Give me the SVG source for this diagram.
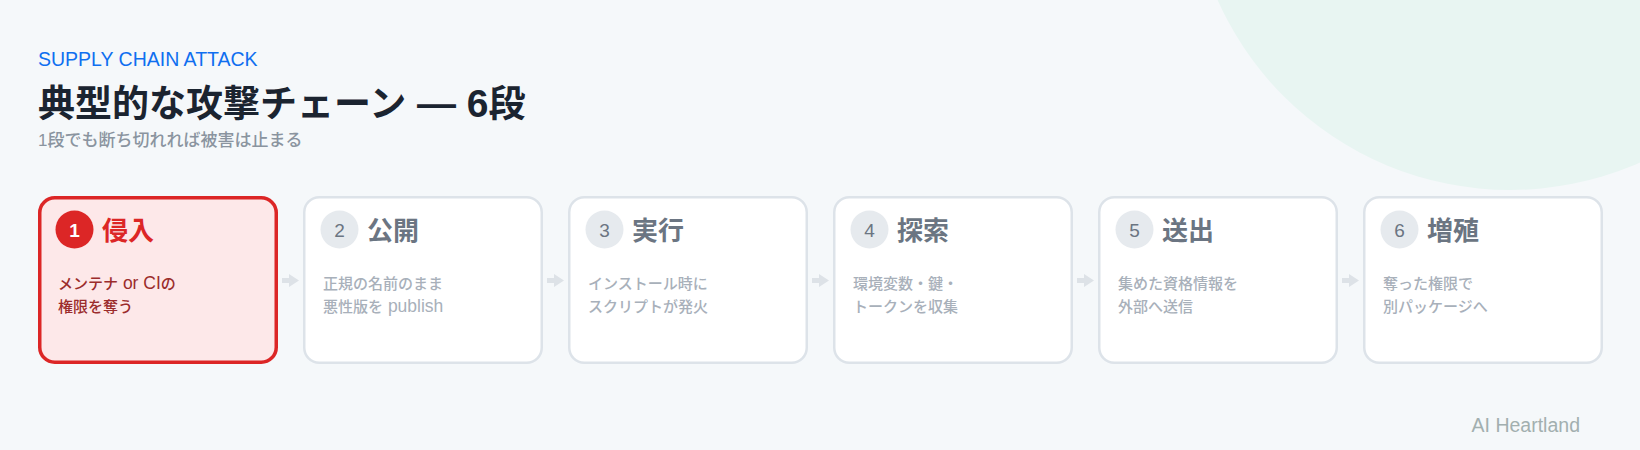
<svg xmlns="http://www.w3.org/2000/svg" width="1640" height="450" viewBox="0 0 1640 450">
  <defs>
    <style>
      text { font-family: "Liberation Sans", "Noto Sans CJK JP", sans-serif; }
      .eyebrow { font-size: 19.5px; fill: #0f6ff0; }
      .title { font-size: 37px; font-weight: 700; fill: #1b2430; }
      .title .lat { font-size: 39px; }
      .sub { font-size: 17px; font-weight: 500; fill: #8a949f; }
      .box { fill: #ffffff; stroke: #dde3e9; stroke-width: 2.5; }
      .box-active { fill: #fde8e9; stroke: #dc2626; stroke-width: 3.5; }
      .num-bg { fill: #e6eaee; }
      .num-bg-active { fill: #dc2626; }
      .num { font-size: 19px; fill: #6b7582; text-anchor: middle; }
      .num-active { font-size: 19px; font-weight: 700; fill: #ffffff; text-anchor: middle; }
      .head { font-size: 26px; font-weight: 700; fill: #6b7582; }
      .head-active { font-size: 26px; font-weight: 700; fill: #dc2626; }
      .desc { font-size: 15px; font-weight: 500; fill: #a8b0ba; }
      .desc-active { font-size: 15px; font-weight: 500; fill: #9b2c2c; }
      .lat { font-size: 17.5px; }
      .arrow { fill: #dde2e7; }
      .brand { font-size: 19.5px; fill: #a2afaf; text-anchor: end; }
    </style>
  </defs>
  <rect x="0" y="0" width="1640" height="450" fill="#f5f8fa"/>
  <circle cx="1510" cy="-130" r="320" fill="#e8f5f2"/>

  <g id="header">
    <text class="eyebrow" x="38" y="66">SUPPLY CHAIN ATTACK</text>
    <text class="title" x="38" y="117">典型的な攻撃チェーン<tspan class="lat"> — 6</tspan>段</text>
    <text class="sub" x="38" y="146">1段でも断ち切れれば被害は止まる</text>
  </g>

  <g id="connectors">
    <path class="arrow" d="M282 278 H289 V274 L299 280.5 L289 287 V283 H282 Z"/>
    <path class="arrow" d="M547 278 H554 V274 L564 280.5 L554 287 V283 H547 Z"/>
    <path class="arrow" d="M812 278 H819 V274 L829 280.5 L819 287 V283 H812 Z"/>
    <path class="arrow" d="M1077 278 H1084 V274 L1094 280.5 L1084 287 V283 H1077 Z"/>
    <path class="arrow" d="M1342 278 H1349 V274 L1359 280.5 L1349 287 V283 H1342 Z"/>
  </g>

  <g id="node1">
    <rect class="box-active" x="39.75" y="197.75" width="236.5" height="164.5" rx="15"/>
    <circle class="num-bg-active" cx="74.5" cy="229.5" r="19"/>
    <text class="num-active" x="74.5" y="236.5">1</text>
    <text class="head-active" x="102" y="240">侵入</text>
    <text class="desc-active" x="58" y="288.5">メンテナ<tspan class="lat"> or CI</tspan>の</text>
    <text class="desc-active" x="58" y="311.5">権限を奪う</text>
  </g>

  <g id="node2">
    <rect class="box" x="304.25" y="197.25" width="237.5" height="165.5" rx="15"/>
    <circle class="num-bg" cx="339.5" cy="229.5" r="19"/>
    <text class="num" x="339.5" y="236.5">2</text>
    <text class="head" x="367" y="240">公開</text>
    <text class="desc" x="323" y="288.5">正規の名前のまま</text>
    <text class="desc" x="323" y="311.5">悪性版を<tspan class="lat"> publish</tspan></text>
  </g>

  <g id="node3">
    <rect class="box" x="569.25" y="197.25" width="237.5" height="165.5" rx="15"/>
    <circle class="num-bg" cx="604.5" cy="229.5" r="19"/>
    <text class="num" x="604.5" y="236.5">3</text>
    <text class="head" x="632" y="240">実行</text>
    <text class="desc" x="588" y="288.5">インストール時に</text>
    <text class="desc" x="588" y="311.5">スクリプトが発火</text>
  </g>

  <g id="node4">
    <rect class="box" x="834.25" y="197.25" width="237.5" height="165.5" rx="15"/>
    <circle class="num-bg" cx="869.5" cy="229.5" r="19"/>
    <text class="num" x="869.5" y="236.5">4</text>
    <text class="head" x="897" y="240">探索</text>
    <text class="desc" x="853" y="288.5">環境変数・鍵・</text>
    <text class="desc" x="853" y="311.5">トークンを収集</text>
  </g>

  <g id="node5">
    <rect class="box" x="1099.25" y="197.25" width="237.5" height="165.5" rx="15"/>
    <circle class="num-bg" cx="1134.5" cy="229.5" r="19"/>
    <text class="num" x="1134.5" y="236.5">5</text>
    <text class="head" x="1162" y="240">送出</text>
    <text class="desc" x="1118" y="288.5">集めた資格情報を</text>
    <text class="desc" x="1118" y="311.5">外部へ送信</text>
  </g>

  <g id="node6">
    <rect class="box" x="1364.25" y="197.25" width="237.5" height="165.5" rx="15"/>
    <circle class="num-bg" cx="1399.5" cy="229.5" r="19"/>
    <text class="num" x="1399.5" y="236.5">6</text>
    <text class="head" x="1427" y="240">増殖</text>
    <text class="desc" x="1383" y="288.5">奪った権限で</text>
    <text class="desc" x="1383" y="311.5">別パッケージへ</text>
  </g>

  <g id="brand">
    <text class="brand" x="1580" y="432">AI Heartland</text>
  </g>
</svg>
